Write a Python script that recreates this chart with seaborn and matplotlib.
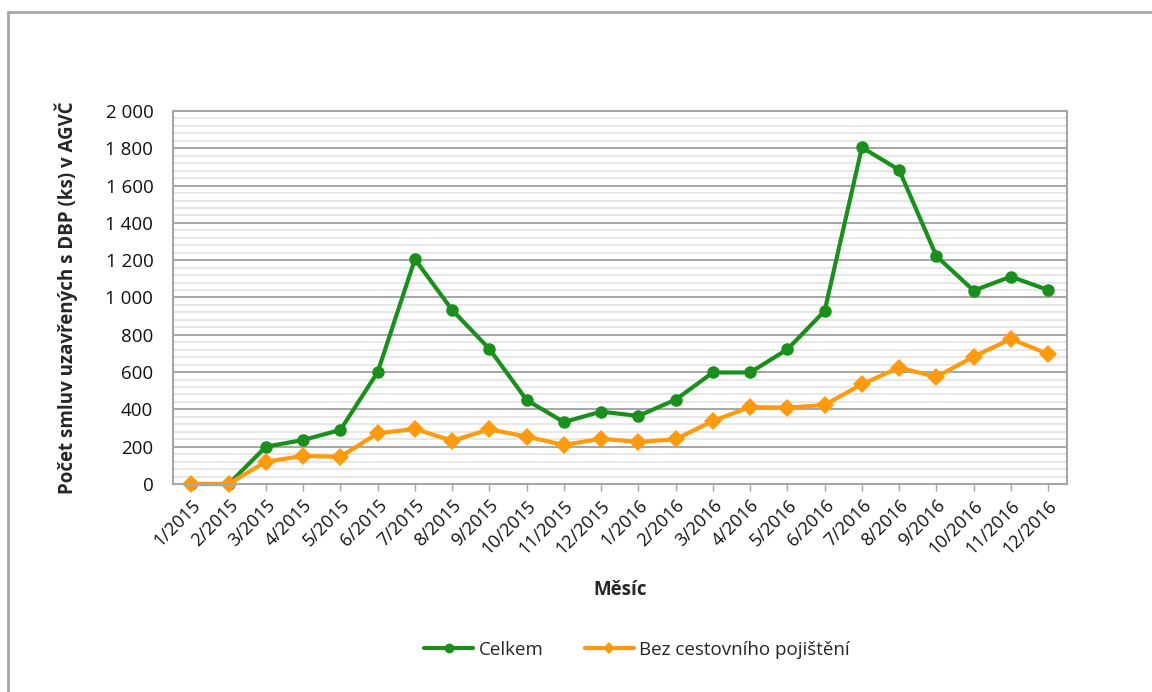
import numpy as np
import pandas as pd
import seaborn as sns
import matplotlib
matplotlib.use("Agg")
import matplotlib.pyplot as plt
from matplotlib.lines import Line2D
from matplotlib.ticker import MultipleLocator, FuncFormatter

months = ["1/2015", "2/2015", "3/2015", "4/2015", "5/2015", "6/2015", "7/2015",
          "8/2015", "9/2015", "10/2015", "11/2015", "12/2015", "1/2016", "2/2016",
          "3/2016", "4/2016", "5/2016", "6/2016", "7/2016", "8/2016", "9/2016",
          "10/2016", "11/2016", "12/2016"]

celkem = [0, 0, 200, 236, 290, 600, 1205, 933, 724, 450, 332, 388, 365, 452,
          598, 598, 722, 928, 1805, 1684, 1222, 1037, 1112, 1040]

bez_pojisteni = [0, 0, 120, 150, 146, 272, 295, 232, 293, 254, 209, 243, 225, 240,
                 338, 413, 409, 424, 535, 624, 574, 683, 778, 697]

series_names = ["Celkem", "Bez cestovního pojištění"]
colors = {"Celkem": "#1A8F1E", "Bez cestovního pojištění": "#FF9A0E"}
markers = {"Celkem": "o", "Bez cestovního pojištění": "D"}

df = pd.DataFrame({
    "idx": list(range(len(months))) * 2,
    "value": celkem + bez_pojisteni,
    "series": [series_names[0]] * len(months) + [series_names[1]] * len(months),
})

sns.set_theme(style="white")
plt.rcParams["font.family"] = ["Open Sans", "DejaVu Sans"]

fig = plt.figure(figsize=(11.52, 6.92), dpi=100)
ax = fig.add_axes([0.150, 0.3006, 0.776, 0.539])

sns.lineplot(data=df, x="idx", y="value", hue="series", style="series",
             hue_order=series_names, style_order=series_names,
             palette=colors, markers=markers, dashes=False,
             linewidth=3, markersize=9, markeredgewidth=0,
             legend=False, ax=ax, sort=False)
for line in ax.lines:
    line.set_clip_on(False)

ax.set_xlim(-0.5, len(months) - 0.5)
ax.set_ylim(0, 2000)
ax.set_xticks(range(len(months)))
ax.set_xticklabels(months, rotation=45, ha="right", rotation_mode="anchor",
                   fontsize=13, color="#111111")
ax.yaxis.set_major_locator(MultipleLocator(200))
ax.yaxis.set_minor_locator(MultipleLocator(40))
ax.yaxis.set_major_formatter(FuncFormatter(lambda v, p: f"{int(v):,}".replace(",", " ")))
ax.tick_params(axis="y", labelsize=13.5, labelcolor="#111111", length=0, pad=14)
ax.tick_params(axis="x", length=5, width=1, color="#A6A6A6", direction="out",
               bottom=True, pad=4)

ax.grid(which="minor", axis="y", color="#E3E3E3", linewidth=1.2)
ax.grid(which="major", axis="y", color="#A6A6A6", linewidth=1.4)
ax.set_axisbelow(True)
for s in ax.spines.values():
    s.set_color("#A6A6A6")
    s.set_linewidth(1.5)

ax.set_xlabel("Měsíc", fontsize=13.5, fontweight="bold", labelpad=16)
ax.set_ylabel("Počet smluv uzavřených s DBP (ks) v AGVČ", fontsize=13.5,
              fontweight="bold", labelpad=20)

handles = [Line2D([], [], color=colors[n], marker=markers[n], linewidth=3,
                  markersize=7 if n == "Celkem" else 6, markeredgewidth=0)
           for n in series_names]
fig.legend(handles, series_names, loc="center", bbox_to_anchor=(0.553, 0.061),
           ncol=2, frameon=False, fontsize=13.5, handlelength=2.6,
           columnspacing=2.2, handletextpad=0.3)

# outer chart frame (top and left edges)
fig.add_artist(Line2D([0.0068, 0.0068], [0.0, 0.983], transform=fig.transFigure,
                      color="#A6A6A6", linewidth=2))
fig.add_artist(Line2D([0.0068, 1.0], [0.983, 0.983], transform=fig.transFigure,
                      color="#A6A6A6", linewidth=2))

fig.savefig("out.png", dpi=100, facecolor="white")
